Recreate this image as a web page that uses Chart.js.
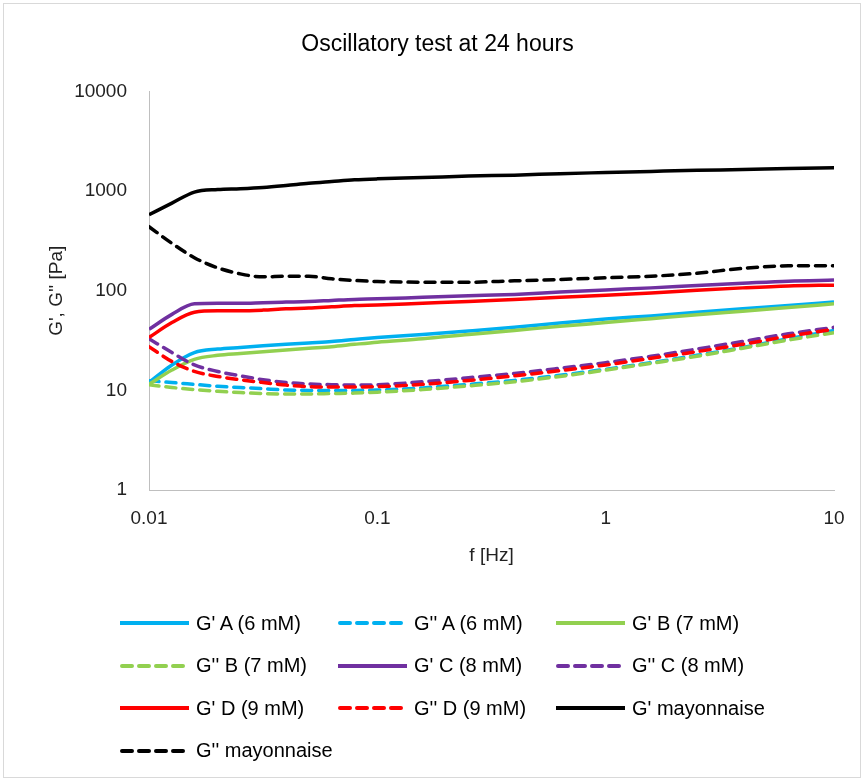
<!DOCTYPE html>
<html>
<head>
<meta charset="utf-8">
<script src="https://cdn.jsdelivr.net/npm/chart.js@4.4.0/dist/chart.umd.min.js"></script>
<style>
  body { margin: 0; background: #fff; font-family: "Liberation Sans", Arial, sans-serif; }
  #wrap { position: relative; width: 867px; height: 782px; }
  #frame { position: absolute; left: 3px; top: 3px; width: 858px; height: 775px; border: 1px solid #d9d9d9; box-sizing: border-box; pointer-events: none; }
  #legend { position: absolute; left: 0; top: 0; width: 867px; height: 782px; pointer-events: none; }
  .item { position: absolute; height: 24px; display: flex; align-items: center; font-size: 20px; color: #000; white-space: nowrap; }
  .item svg { margin-right: 7px; }
</style>
</head>
<body>
<div id="wrap">
  <canvas id="rheo" width="867" height="782"></canvas>
  <div id="frame"></div>
  <div id="legend"></div>
</div>
<script>
// frequency sweep points [Hz]
const freq = [0.01, 0.0126, 0.0158, 0.02, 0.0251, 0.0316, 0.0398, 0.0501, 0.0631, 0.0794,
              0.1, 0.158, 0.251, 0.398, 0.631, 1, 1.58, 2.51, 3.98, 6.31, 10];

// storage / loss moduli [Pa]
const gpA  = [12, 18, 24, 26, 27, 28, 29, 30, 31, 32.5, 34, 36.5, 39.5, 43, 47.5, 52, 56, 61, 66, 71, 77];
const gppA = [12.5, 12, 11.5, 11, 10.7, 10.4, 10.1, 10, 10, 10, 10.1, 10.6, 11.5, 12.6, 14.2, 16.3, 19, 22.5, 27, 33, 40];
const gpB  = [11.5, 16, 20.5, 22.5, 23.5, 24.5, 25.5, 26.5, 27.5, 29, 30.5, 33, 36.5, 40, 44, 48, 52.5, 57.5, 62.5, 68, 74];
const gppB = [11.4, 10.7, 10.2, 9.8, 9.5, 9.3, 9.2, 9.2, 9.3, 9.4, 9.6, 10.2, 11.1, 12.2, 13.8, 16, 18.7, 22, 26.5, 32, 38];
const gpC  = [41, 58, 74, 75, 75, 76, 77, 78, 80, 82, 83, 86, 89, 92, 97, 102, 107, 113, 119, 125, 128];
const gppC = [33, 24, 18, 15.5, 14, 12.8, 12, 11.6, 11.4, 11.3, 11.4, 12.2, 13.4, 14.8, 16.7, 19, 22, 26, 31, 37, 43];
const gpD  = [34, 48, 61, 63, 63, 64, 66, 67, 69, 71, 72, 75, 78, 82, 86, 90, 95, 101, 107, 112, 114];
const gppD = [27.5, 19.5, 15.5, 13.8, 12.8, 12, 11.3, 10.9, 10.8, 10.8, 10.9, 11.5, 12.6, 14, 15.8, 18, 21, 24.5, 29, 35, 41];
const gpMayo  = [580, 760, 980, 1040, 1060, 1090, 1140, 1200, 1250, 1300, 1330, 1370, 1420, 1450, 1500, 1540, 1580, 1620, 1650, 1690, 1720];
const gppMayo = [440, 300, 215, 170, 148, 138, 140, 140, 132, 127, 124, 122, 122, 126, 130, 135, 140, 150, 168, 178, 178];

const xTicks = [0.01, 0.1, 1, 10];
const yTicks = [1, 10, 100, 1000, 10000];

const series = [
  { label: "G' A (6 mM)",    values: gpA,     color: '#00B0F0', dashed: false },
  { label: "G'' A (6 mM)",   values: gppA,    color: '#00B0F0', dashed: true },
  { label: "G' B (7 mM)",    values: gpB,     color: '#92D050', dashed: false },
  { label: "G'' B (7 mM)",   values: gppB,    color: '#92D050', dashed: true },
  { label: "G' C (8 mM)",    values: gpC,     color: '#7030A0', dashed: false },
  { label: "G'' C (8 mM)",   values: gppC,    color: '#7030A0', dashed: true },
  { label: "G' D (9 mM)",    values: gpD,     color: '#FF0000', dashed: false },
  { label: "G'' D (9 mM)",   values: gppD,    color: '#FF0000', dashed: true },
  { label: "G' mayonnaise",  values: gpMayo,  color: '#000000', dashed: false },
  { label: "G'' mayonnaise", values: gppMayo, color: '#000000', dashed: true }
];

const datasets = series.map((s, i) => ({
  label: s.label,
  data: freq.map((f, j) => ({ x: f, y: s.values[j] })),
  borderColor: s.color,
  backgroundColor: s.color,
  borderWidth: 3.5,
  borderDash: s.dashed ? [10, 7] : [],
  borderCapStyle: s.dashed ? 'round' : 'butt',
  pointRadius: 0,
  cubicInterpolationMode: 'monotone',
  fill: false,
  order: series.length - i
}));

const tickFont = { family: '"Liberation Sans", Arial, sans-serif', size: 19 };

new Chart(document.getElementById('rheo').getContext('2d'), {
  type: 'line',
  data: { datasets },
  options: {
    responsive: false,
    animation: false,
    layout: { padding: { left: 41, right: 33, top: 0, bottom: 211 } },
    plugins: {
      legend: { display: false },
      tooltip: { enabled: false },
      title: {
        display: true,
        text: 'Oscillatory test at 24 hours',
        color: '#000',
        font: { family: '"Liberation Sans", Arial, sans-serif', size: 23, weight: 'normal' },
        padding: { top: 31, bottom: 33 }
      }
    },
    scales: {
      x: {
        type: 'logarithmic',
        min: 0.01, max: 10,
        afterBuildTicks: s => { s.ticks = xTicks.map(v => ({ value: v })); },
        afterFit: s => { s.height = 81; },
        grid: { display: false, drawTicks: false },
        border: { display: true, color: '#bfbfbf', width: 1 },
        ticks: { color: '#222', font: tickFont, padding: 17, maxRotation: 0, autoSkip: false,
                 callback: v => String(v) },
        title: { display: true, text: 'f [Hz]', color: '#222', font: tickFont, padding: 4 }
      },
      y: {
        type: 'logarithmic',
        min: 1, max: 10000,
        afterBuildTicks: s => { s.ticks = yTicks.map(v => ({ value: v })); },
        afterFit: s => { s.width = 149 - 41; },
        grid: { display: false, drawTicks: false },
        border: { display: true, color: '#bfbfbf', width: 1 },
        ticks: { color: '#222', font: tickFont, padding: 22, autoSkip: false,
                 callback: v => String(v) },
        title: { display: true, text: "G', G'' [Pa]", color: '#222', font: tickFont, padding: 4 }
      }
    }
  }
});

// legend in three columns, like the original
const legendBox = document.getElementById('legend');
series.forEach((s, i) => {
  const col = i % 3, row = Math.floor(i / 3);
  const item = document.createElement('div');
  item.className = 'item';
  item.style.left = (120 + col * 218) + 'px';
  item.style.top = (611 + row * 42.5) + 'px';
  const dash = s.dashed ? 'stroke-dasharray="10 7" stroke-linecap="round"' : '';
  item.innerHTML = '<svg width="69" height="8"><line x1="' + (s.dashed ? 2 : 0) + '" y1="4" x2="' + (s.dashed ? 67 : 69) +
    '" y2="4" stroke="' + s.color + '" stroke-width="4" ' + dash + '/></svg><span>' + s.label + '</span>';
  legendBox.appendChild(item);
});
</script>
</body>
</html>
